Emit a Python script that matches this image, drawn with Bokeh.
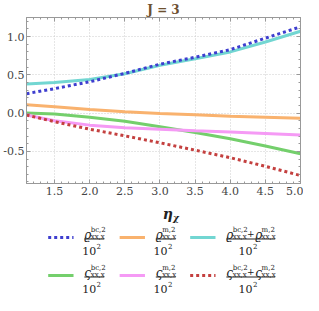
from bokeh.plotting import figure
from bokeh.layouts import column
from bokeh.models import (Range1d, LinearAxis, SingleIntervalTicker, PrintfTickFormatter,
                          CustomJSTickFormatter)
from bokeh.core.properties import value
from bokeh.embed import file_html
from bokeh.resources import INLINE

# ---- data ----
eta = [1.1, 1.5, 2.0, 2.5, 3.0, 3.5, 4.0, 4.5, 5.0]
rho_bc = [0.254, 0.32, 0.41, 0.52, 0.64, 0.73, 0.83, 0.98, 1.128]
rho_m = [0.11, 0.083, 0.046, 0.017, -0.004, -0.02, -0.041, -0.053, -0.066]
rho_sum = [0.38, 0.40, 0.44, 0.515, 0.625, 0.71, 0.80, 0.93, 1.07]
s_bc = [0.0, -0.012, -0.053, -0.107, -0.178, -0.252, -0.335, -0.43, -0.53]
s_m = [-0.025, -0.1, -0.157, -0.19, -0.21, -0.232, -0.248, -0.265, -0.286]
s_sum = [-0.025, -0.112, -0.21, -0.297, -0.388, -0.484, -0.583, -0.695, -0.816]
tick_step = 0.5

SERIF = "DejaVu Serif"
C_BLUE, C_ORANGE, C_CYAN = "#3e3ecf", "#f9b26e", "#72d6d2"
C_GREEN, C_PINK, C_RED = "#74cf6c", "#f59af5", "#c4403f"

W = 303
H_MAIN = 197
H_LEG = 295 - H_MAIN

p = figure(width=W, height=H_MAIN, output_backend="svg", toolbar_location=None,
           x_range=Range1d(1.1, 5.0), y_range=Range1d(-0.92, 1.25),
           min_border_left=0, min_border_right=3, min_border_top=0, min_border_bottom=0,
           title="J = 3")
p.title.align = "center"
p.title.text_font = SERIF
p.title.text_font_size = "12px"
p.title.text_font_style = "bold"
p.title.text_color = "#6e5030"
p.title.standoff = 1
p.title.offset = 0

p.outline_line_color = "#999999"
p.outline_line_width = 1
p.background_fill_color = "white"
p.border_fill_color = "white"

for ax in [p.xaxis[0], p.yaxis[0]]:
    ax.ticker = SingleIntervalTicker(interval=tick_step, num_minor_ticks=5)
    ax.formatter = PrintfTickFormatter(format="%.1f")
    ax.major_label_text_font = SERIF
    ax.major_label_text_font_size = "11px"
    ax.major_label_text_color = "#444444"
    ax.axis_line_color = "#999999"
    ax.major_tick_line_color = "#999999"
    ax.minor_tick_line_color = "#999999"
    ax.major_tick_in = 4
    ax.major_tick_out = 0
    ax.minor_tick_in = 2
    ax.minor_tick_out = 0
    ax.major_label_standoff = 3
p.yaxis[0].major_label_standoff = 2

# top / right tick-only axes (no labels)
for loc in ["above", "right"]:
    ax = LinearAxis(ticker=SingleIntervalTicker(interval=tick_step, num_minor_ticks=5),
                    formatter=CustomJSTickFormatter(code="return ''"))
    ax.major_label_text_font_size = "1px"
    ax.major_label_standoff = 0
    ax.axis_line_color = "#999999"
    ax.major_tick_line_color = "#999999"
    ax.minor_tick_line_color = "#999999"
    ax.major_tick_in = 4
    ax.major_tick_out = 0
    ax.minor_tick_in = 2
    ax.minor_tick_out = 0
    p.add_layout(ax, loc)

p.xgrid.ticker = SingleIntervalTicker(interval=tick_step)
p.ygrid.ticker = SingleIntervalTicker(interval=tick_step)
p.grid.grid_line_color = "#cccccc"
p.grid.grid_line_dash = "1 2"
p.grid.grid_line_width = 1

LW = 3
p.line(eta, rho_m, line_color=C_ORANGE, line_width=LW)
p.line(eta, rho_sum, line_color=C_CYAN, line_width=LW)
p.line(eta, s_bc, line_color=C_GREEN, line_width=LW)
p.line(eta, s_m, line_color=C_PINK, line_width=LW)
p.line(eta, rho_bc, line_color=C_BLUE, line_width=LW, line_dash="3 3")
p.line(eta, s_sum, line_color=C_RED, line_width=LW, line_dash="3 3")

# ---- axis label + legend figure ----
lg = figure(width=W, height=H_LEG, output_backend="svg", toolbar_location=None,
            x_range=Range1d(0, W), y_range=Range1d(H_LEG, 0),
            min_border=0)
lg.axis.visible = False
lg.grid.visible = False
lg.outline_line_color = None
lg.background_fill_color = "white"
lg.border_fill_color = "white"


def txt(x, y, s, size, style="normal", align="left"):
    lg.text(x=[x], y=[y], text=[s], text_font=value(SERIF), text_font_size=value(size),
            text_font_style=value(style), text_align=value(align),
            text_baseline=value("alphabetic"), text_color="#222222")


# x axis label  eta_chi
x_lab = 163
txt(x_lab - 1, 16, "η", "14px", "bold italic", "right")
txt(x_lab - 1, 20, "χ", "9px", "bold italic", "left")

entries = [
    ("ϱ", "bc,2", None, C_BLUE, "3 3"),
    ("ϱ", "m,2", None, C_ORANGE, "solid"),
    ("ϱ", "bc,2", "m,2", C_CYAN, "solid"),
    ("ς", "bc,2", None, C_GREEN, "solid"),
    ("ς", "m,2", None, C_PINK, "solid"),
    ("ς", "bc,2", "m,2", C_RED, "3 3"),
]
sample_x = [(24, 52), (103, 131), (181, 209)]
centers = [75, 154, 248]
rows_y = [41, 79]


def term(x, b, sym, sup):
    txt(x, b - 4, sym, "12px", "italic")
    txt(x + 7, b - 9, sup, "7px")
    txt(x + 7, b - 2, "xx,x", "7px")


for i, (sym, sup1, sup2, col, dash) in enumerate(entries):
    r, c = divmod(i, 3)
    b = rows_y[r]
    x0, x1 = sample_x[c]
    lg.line([x0, x1], [b - 1, b - 1], line_color=col, line_width=3, line_dash=dash)
    cx = centers[c]
    if sup2 is None:
        half = 11
        term(cx - half, b, sym, sup1)
    else:
        half = 27
        term(cx - half, b, sym, sup1)
        txt(cx, b - 5, "+", "9px", align="center")
        term(cx + 5, b, sym, sup2)
    lg.line([cx - half, cx + half], [b + 0.5, b + 0.5], line_color="#222222", line_width=1.2)
    txt(cx + 2, b + 12, "10", "11px", align="right")
    txt(cx + 2.5, b + 7, "2", "7px")

layout = column(p, lg, spacing=0)
open("out.html", "w").write(file_html(layout, INLINE))
